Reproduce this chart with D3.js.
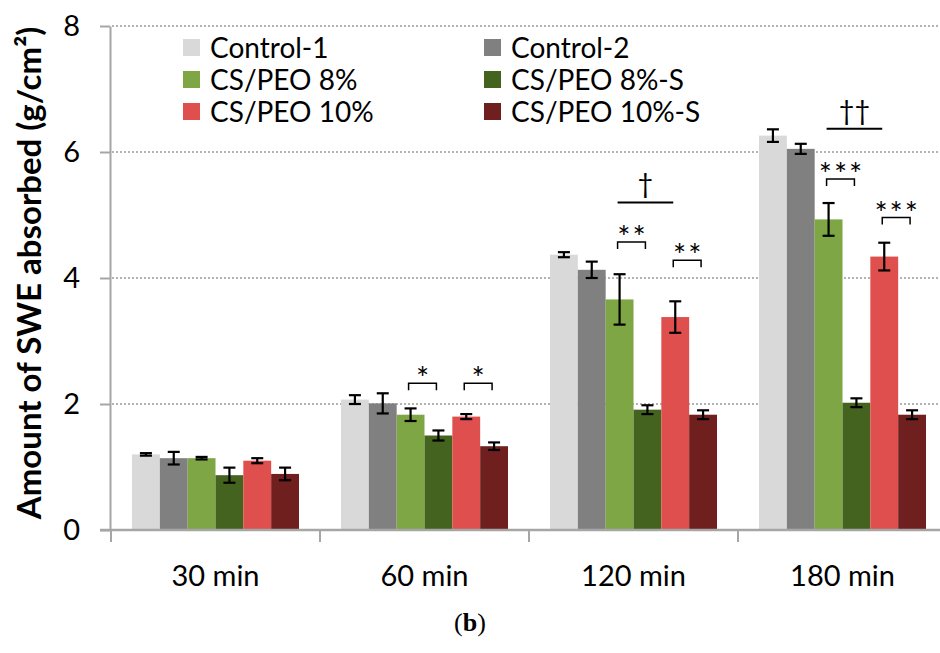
<!DOCTYPE html>
<html>
<head>
<meta charset="utf-8">
<script src="https://cdn.jsdelivr.net/npm/d3@7"></script>
<style>
  html, body { margin: 0; padding: 0; background: #fff; }
  svg { display: block; }
  text { font-family: Lato, "Open Sans", sans-serif; fill: #000; }
</style>
</head>
<body>
<svg id="chart" width="940" height="653"></svg>
<script>
// ---- data ----
const categories = ["30 min", "60 min", "120 min", "180 min"];
const seriesNames = ["Control-1", "Control-2", "CS/PEO 8%", "CS/PEO 8%-S", "CS/PEO 10%", "CS/PEO 10%-S"];
const seriesColors = ["#d9d9d9", "#808080", "#7ea645", "#44631f", "#df4f4e", "#6f1f1e"];
const control1 = [1.20, 2.07, 4.37, 6.26];
const control2 = [1.14, 2.01, 4.13, 6.05];
const csPeo8 = [1.14, 1.83, 3.66, 4.93];
const csPeo8S = [0.87, 1.50, 1.91, 2.02];
const csPeo10 = [1.10, 1.80, 3.38, 4.34];
const csPeo10S = [0.89, 1.33, 1.83, 1.83];
const errControl1 = [0.02, 0.07, 0.04, 0.10];
const errControl2 = [0.10, 0.16, 0.13, 0.08];
const errCsPeo8 = [0.02, 0.10, 0.40, 0.26];
const errCsPeo8S = [0.12, 0.08, 0.07, 0.07];
const errCsPeo10 = [0.04, 0.04, 0.25, 0.22];
const errCsPeo10S = [0.10, 0.06, 0.07, 0.07];
const yTicks = [0, 2, 4, 6, 8];
// significance brackets: category, from series, to series, level, label
const brackets = [
  { cat: "60 min", a: 2, b: 3, level: 2.33, label: "*" },
  { cat: "60 min", a: 4, b: 5, level: 2.33, label: "*" },
  { cat: "120 min", a: 2, b: 3, level: 4.57, label: "**" },
  { cat: "120 min", a: 4, b: 5, level: 4.28, label: "**" },
  { cat: "180 min", a: 2, b: 3, level: 5.57, label: "***" },
  { cat: "180 min", a: 4, b: 5, level: 4.96, label: "***" }
];
const daggers = [
  { cat: "120 min", a: 2, b: 4, level: 5.20, label: "\u2020" },
  { cat: "180 min", a: 2, b: 4, level: 6.37, label: "\u2020\u2020" }
];

const values = [control1, control2, csPeo8, csPeo8S, csPeo10, csPeo10S];
const errors = [errControl1, errControl2, errCsPeo8, errCsPeo8S, errCsPeo10, errCsPeo10S];

// ---- layout ----
const svg = d3.select("#chart");
const x0 = d3.scaleBand().domain(categories).range([111, 947]).padding(0);
const x1 = d3.scaleBand().domain(d3.range(seriesNames.length)).range([21, x0.bandwidth() - 21]).padding(0);
const y = d3.scaleLinear().domain([0, 8]).range([530, 26]);
const axisColor = "#a6a6a6";

// gridlines
svg.append("g").selectAll("line").data(yTicks.filter(d => d > 0)).join("line")
  .attr("x1", 112).attr("x2", 940)
  .attr("y1", d => y(d)).attr("y2", d => y(d))
  .attr("stroke", "#9a9a9a").attr("stroke-width", 1.5).attr("stroke-dasharray", "2,2");

// bars
const groups = svg.append("g").selectAll("g").data(categories).join("g")
  .attr("transform", c => `translate(${x0(c)},0)`);
groups.selectAll("rect").data((c, ci) => values.map((s, si) => ({ si, v: s[ci], e: errors[si][ci] })))
  .join("rect")
  .attr("x", d => x1(d.si)).attr("width", x1.bandwidth())
  .attr("y", d => y(d.v)).attr("height", d => y(0) - y(d.v))
  .attr("fill", d => seriesColors[d.si]);

// error bars
const eb = groups.selectAll("g.err").data((c, ci) => values.map((s, si) => ({ si, v: s[ci], e: errors[si][ci] })))
  .join("g").attr("class", "err")
  .attr("transform", d => `translate(${x1(d.si) + x1.bandwidth() / 2},0)`)
  .attr("stroke", "#000").attr("stroke-width", 2.2);
eb.append("line").attr("x1", 0).attr("x2", 0).attr("y1", d => y(d.v + d.e)).attr("y2", d => y(d.v - d.e));
eb.append("line").attr("x1", -6).attr("x2", 6).attr("y1", d => y(d.v + d.e)).attr("y2", d => y(d.v + d.e));
eb.append("line").attr("x1", -6).attr("x2", 6).attr("y1", d => y(d.v - d.e)).attr("y2", d => y(d.v - d.e));

// axes
const yAxis = d3.axisLeft(y).tickValues(yTicks).tickSize(10).tickSizeOuter(0).tickPadding(20);
const gy = svg.append("g").attr("transform", "translate(110,0)").call(yAxis);
gy.select(".domain").attr("stroke", axisColor).attr("stroke-width", 2);
gy.selectAll(".tick line").attr("stroke", axisColor).attr("stroke-width", 2);
gy.selectAll(".tick text").attr("font-family", "Lato").attr("font-size", 29).attr("fill", "#000");

const xAxis = d3.axisBottom(x0).tickSize(0).tickSizeOuter(0).tickPadding(35);
const gx = svg.append("g").attr("transform", `translate(0,${y(0)})`).call(xAxis);
gx.select(".domain").attr("stroke", axisColor).attr("stroke-width", 2.5).attr("d", "M100,0H940");
gx.selectAll(".tick text").attr("font-family", "Lato").attr("font-size", 29).attr("fill", "#000").attr("dy", "0.71em");
// category boundary ticks
svg.append("g").selectAll("line").data(categories).join("line")
  .attr("x1", c => x0(c)).attr("x2", c => x0(c))
  .attr("y1", y(0)).attr("y2", y(0) + 12)
  .attr("stroke", axisColor).attr("stroke-width", 2);

// y label
svg.append("text")
  .attr("transform", "translate(41,273) rotate(-90)")
  .attr("text-anchor", "middle")
  .attr("font-size", 33).attr("font-weight", "bold")
  .text("Amount of SWE absorbed (g/cm\u00B2)");

// significance annotations
const cx = (cat, si) => x0(cat) + x1(si) + x1.bandwidth() / 2;
const ann = svg.append("g");
brackets.forEach(b => {
  const xa = cx(b.cat, b.a) - 2, xb = cx(b.cat, b.b) - 2, yy = y(b.level);
  ann.append("path").attr("d", `M${xa},${yy + 7}V${yy}H${xb}V${yy + 7}`)
    .attr("fill", "none").attr("stroke", "#000").attr("stroke-width", 1.5);
  ann.append("text").attr("x", (xa + xb) / 2 + 1).attr("y", yy + 6)
    .attr("text-anchor", "middle").attr("font-size", 31).attr("letter-spacing", 2)
    .text(b.label);
});
daggers.forEach(d => {
  const xa = cx(d.cat, d.a) - 2, xb = cx(d.cat, d.b) - 2, yy = y(d.level);
  ann.append("line").attr("x1", xa).attr("x2", xb).attr("y1", yy).attr("y2", yy)
    .attr("stroke", "#000").attr("stroke-width", 2);
  ann.append("text").attr("x", (xa + xb) / 2).attr("y", yy - 9)
    .attr("text-anchor", "middle").attr("font-size", 27).text(d.label);
});

// legend
const legendX = [183, 484];
const legendY = [48, 80, 112];
const leg = svg.append("g").selectAll("g").data(seriesNames).join("g")
  .attr("transform", (d, i) => `translate(${legendX[i % 2]},${legendY[Math.floor(i / 2)]})`);
leg.append("rect").attr("x", 0).attr("y", -9).attr("width", 17).attr("height", 17)
  .attr("fill", (d, i) => seriesColors[i]);
leg.append("text").attr("x", 27).attr("y", 0).attr("dy", "0.36em")
  .attr("font-size", 28).text(d => d);

// caption
const cap = svg.append("text").attr("x", 470).attr("y", 631).attr("text-anchor", "middle")
  .attr("font-family", "'Liberation Serif', serif").attr("font-size", 26);
cap.append("tspan").attr("font-family", "'Liberation Serif', serif").text("(");
cap.append("tspan").attr("font-family", "'Liberation Serif', serif").attr("font-weight", "bold").text("b");
cap.append("tspan").attr("font-family", "'Liberation Serif', serif").text(")");
</script>
</body>
</html>
